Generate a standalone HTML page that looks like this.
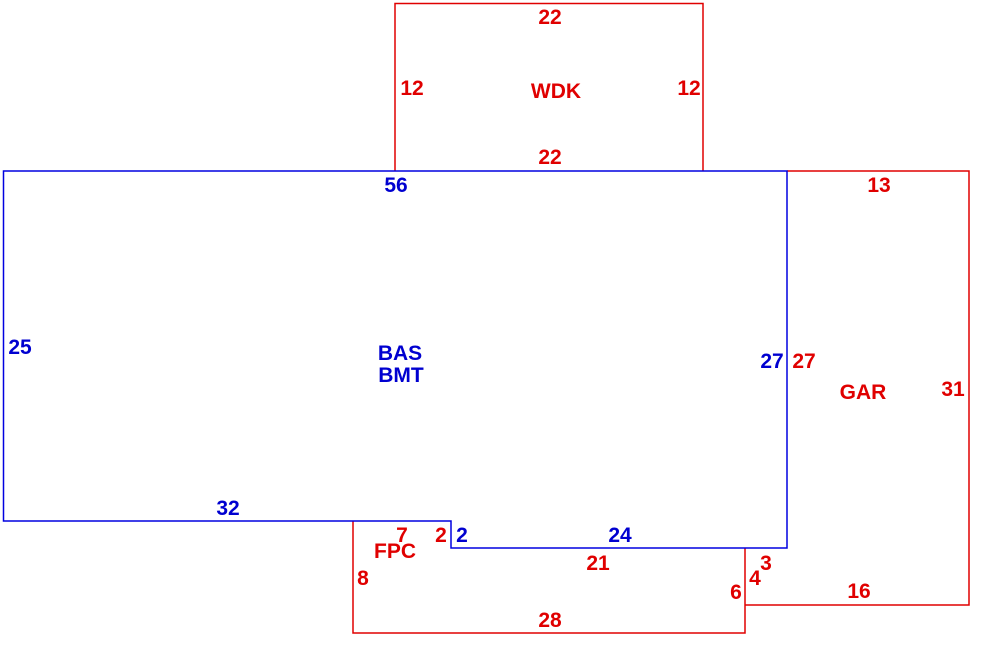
<!DOCTYPE html>
<html><head><meta charset="utf-8"><style>
html,body{margin:0;padding:0;background:#fff;width:990px;height:671px;overflow:hidden}
svg text{font-family:"Liberation Sans",Arial,sans-serif;font-weight:bold;font-size:21px}
.r{fill:#e00000}.b{fill:#0000d0}
</style></head><body>
<svg width="990" height="671" viewBox="0 0 990 671" xmlns="http://www.w3.org/2000/svg">
<g fill="none" stroke-width="1.5">
<polyline points="395,171 395,3.5 703,3.5 703,171" stroke="#e00000"/>
<polyline points="787,171 969,171 969,605 745,605" stroke="#e00000"/>
<polyline points="745,548 745,633 353,633 353,521" stroke="#e00000"/>
<polygon points="3.5,171 787,171 787,548 451,548 451,521 3.5,521" stroke="#0000e0"/>
</g>
<g text-anchor="middle">
<text class="r" x="550" y="24">22</text>
<text class="r" x="412" y="95">12</text>
<text class="r" x="556" y="98">WDK</text>
<text class="r" x="689" y="95">12</text>
<text class="r" x="550" y="164">22</text>
<text class="b" x="396" y="192">56</text>
<text class="r" x="879" y="192">13</text>
<text class="b" x="20" y="354">25</text>
<text class="b" x="400" y="360">BAS</text>
<text class="b" x="401" y="382">BMT</text>
<text class="b" x="772" y="368">27</text>
<text class="r" x="804" y="368">27</text>
<text class="r" x="863" y="399">GAR</text>
<text class="r" x="953" y="396">31</text>
<text class="b" x="228" y="515">32</text>
<text class="r" x="402" y="542">7</text>
<text class="r" x="441" y="542">2</text>
<text class="b" x="462" y="542">2</text>
<text class="b" x="620" y="542">24</text>
<text class="r" x="395" y="558">FPC</text>
<text class="r" x="598" y="570">21</text>
<text class="r" x="766" y="570">3</text>
<text class="r" x="363" y="585">8</text>
<text class="r" x="755" y="585">4</text>
<text class="r" x="736" y="599">6</text>
<text class="r" x="859" y="598">16</text>
<text class="r" x="550" y="627">28</text>
</g>
</svg>
</body></html>
